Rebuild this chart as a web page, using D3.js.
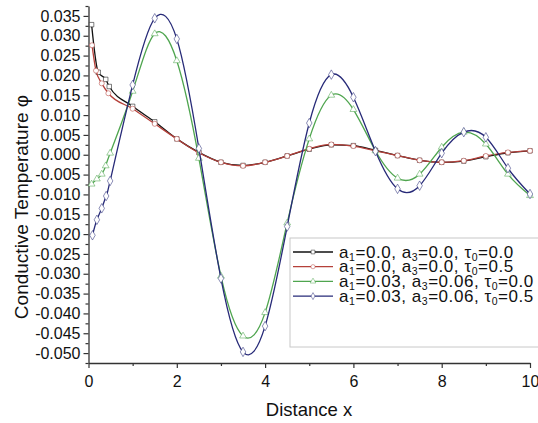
<!DOCTYPE html>
<html>
<head>
<meta charset="utf-8">
<script src="https://cdn.jsdelivr.net/npm/d3@7"></script>
<style>
  body { margin: 0; background: #fff; }
  svg { font-family: Arial, "Liberation Sans", sans-serif; }
</style>
</head>
<body>
<div id="chart"></div>
<script>
// series (x = distance, y = conductive temperature)
const xBlack = [0.07, 0.22, 0.39, 0.47, 1.0, 1.5, 2.0, 2.5, 3.0, 3.5, 4.0, 4.5, 5.0, 5.5, 6.0, 6.5, 7.0, 7.5, 8.0, 8.5, 9.0, 9.5, 10.0];
const yBlack = [0.0328, 0.0208, 0.0190, 0.0172, 0.0122, 0.0083, 0.0040, 0.0006, -0.0019, -0.0027, -0.0019, -0.0003, 0.0014, 0.0025, 0.0023, 0.0011, -0.0002, -0.0014, -0.0019, -0.0016, -0.0005, 0.0005, 0.0010];

const xRed = [0.08, 0.17, 0.30, 0.45, 1.0, 1.5, 2.0, 2.5, 3.0, 3.5, 4.0, 4.5, 5.0, 5.5, 6.0, 6.5, 7.0, 7.5, 8.0, 8.5, 9.0, 9.5, 10.0];
const yRed = [0.0276, 0.0212, 0.0180, 0.0155, 0.0116, 0.0078, 0.0040, 0.0005, -0.0019, -0.0028, -0.0019, -0.0003, 0.0015, 0.0026, 0.0022, 0.0010, -0.0002, -0.0014, -0.0019, -0.0015, -0.0003, 0.0006, 0.0010];

const xGreen = [0.07, 0.19, 0.30, 0.39, 0.49, 1.0, 1.5, 2.0, 2.5, 3.0, 3.5, 4.0, 4.5, 5.0, 5.5, 6.0, 6.5, 7.0, 7.5, 8.0, 8.5, 9.0, 9.5, 10.0];
const yGreen = [-0.0074, -0.0061, -0.0049, -0.0028, 0.0004, 0.0160, 0.0305, 0.0237, -0.0009, -0.0306, -0.0457, -0.0398, -0.0172, 0.0040, 0.0150, 0.0114, 0.0010, -0.0059, -0.0049, 0.0019, 0.0057, 0.0027, -0.0049, -0.0103];

const xBlue = [0.09, 0.19, 0.30, 0.40, 0.49, 1.0, 1.5, 2.0, 2.5, 3.0, 3.5, 4.0, 4.5, 5.0, 5.5, 6.0, 6.5, 7.0, 7.5, 8.0, 8.5, 9.0, 9.5, 10.0];
const yBlue = [-0.0203, -0.0164, -0.0135, -0.0104, -0.0066, 0.0176, 0.0344, 0.0292, 0.0016, -0.0312, -0.0497, -0.0432, -0.0181, 0.0080, 0.0202, 0.0145, 0.0009, -0.0086, -0.0078, 0.0004, 0.0057, 0.0044, -0.0034, -0.0099];

const legendA1 = ["0.0", "0.0", "0.03", "0.03"];
const legendA3 = ["0.0", "0.0", "0.06", "0.06"];
const legendTau = ["0.0", "0.5", "0.0", "0.5"];

const xMajor = [0, 2, 4, 6, 8, 10];
const xMinor = [1, 3, 5, 7, 9];
const yMajor = d3.range(-0.05, 0.0351, 0.005).map((d) => +d.toFixed(3));
const yMinor = d3.range(-0.0525, 0.0376, 0.005).map((d) => +d.toFixed(4));

const series = [
  { xs: xBlack, ys: yBlack, color: "#111111", symbol: d3.symbolSquare, curve: d3.curveMonotoneX },
  { xs: xRed, ys: yRed, color: "#b5403a", symbol: d3.symbolCircle, curve: d3.curveMonotoneX },
  { xs: xGreen, ys: yGreen, color: "#4fa54f", symbol: d3.symbolTriangle, curve: d3.curveNatural },
  { xs: xBlue, ys: yBlue, color: "#272a78", symbol: d3.symbolDiamond, curve: d3.curveNatural }
];

const W = 538, H = 423;
const margin = { top: 6, right: 8, bottom: 60, left: 88.5 };
const width = 530 - margin.left;
const height = 363 - margin.top;

const svg = d3.select("#chart").append("svg")
  .attr("width", W).attr("height", H);

const g = svg.append("g").attr("transform", `translate(${margin.left},${margin.top})`);

const xScale = d3.scaleLinear().domain([0, 10]).range([0, width]);
const yScale = d3.scaleLinear().domain([-0.0525, 0.0375]).range([height, 0]);

// axes
const fmtY = (d) => (Math.abs(d) < 1e-9 ? "0.000" : d.toFixed(3));

g.append("g").attr("class", "y-axis")
  .call(d3.axisLeft(yScale).tickValues(yMajor).tickSize(5).tickSizeOuter(0).tickPadding(3).tickFormat(fmtY));
g.append("g").attr("class", "y-minor")
  .call(d3.axisLeft(yScale).tickValues(yMinor).tickSize(3).tickSizeOuter(0).tickFormat(""))
  .select(".domain").remove();

g.append("g").attr("class", "x-axis")
  .attr("transform", `translate(0,${height})`)
  .call(d3.axisBottom(xScale).tickValues(xMajor).tickSize(5).tickSizeOuter(0).tickPadding(8).tickFormat(d3.format("d")));
g.append("g").attr("class", "x-minor")
  .attr("transform", `translate(0,${height})`)
  .call(d3.axisBottom(xScale).tickValues(xMinor).tickSize(3).tickSizeOuter(0).tickFormat(""))
  .select(".domain").remove();

svg.selectAll(".domain").attr("stroke", "#333").attr("stroke-width", 1.3);
svg.selectAll(".tick line").attr("stroke", "#333").attr("stroke-width", 1.2);
svg.selectAll(".tick text").style("font-size", "16px").style("font-family", "Arial, 'Liberation Sans', sans-serif").attr("fill", "#111");

// titles
svg.append("text")
  .attr("x", 309)
  .attr("y", 416)
  .attr("text-anchor", "middle")
  .style("font-size", "18.5px")
  .attr("fill", "#111")
  .text("Distance x");

svg.append("text")
  .attr("transform", "translate(28,207) rotate(-90)")
  .attr("text-anchor", "middle")
  .style("font-size", "19px")
  .attr("fill", "#111")
  .text("Conductive Temperature φ");

// lines + markers
series.forEach((s) => {
  const pts = s.xs.map((x, i) => [x, s.ys[i]]);
  const line = d3.line()
    .x((d) => xScale(d[0]))
    .y((d) => yScale(d[1]))
    .curve(s.curve);

  g.append("path")
    .datum(pts)
    .attr("fill", "none")
    .attr("stroke", s.color)
    .attr("stroke-width", 1.3)
    .attr("d", line);

  g.selectAll(null)
    .data(pts)
    .enter()
    .append("path")
    .attr("transform", (d) => `translate(${xScale(d[0])},${yScale(d[1])})`)
    .attr("d", d3.symbol().type(s.symbol).size(s.symbol === d3.symbolDiamond ? 26 : 20))
    .attr("fill", "#fff")
    .attr("stroke", s.color)
    .attr("stroke-opacity", 0.6)
    .attr("stroke-width", 0.9);
});

// legend
const legend = svg.append("g").attr("transform", "translate(290,238)");
legend.append("rect")
  .attr("x", 0).attr("y", 0)
  .attr("width", 270).attr("height", 109)
  .attr("fill", "#fff")
  .attr("stroke", "#c8c8c8")
  .attr("stroke-width", 1);

series.forEach((s, i) => {
  const row = legend.append("g").attr("transform", `translate(0,${14 + i * 14.7})`);
  row.append("line")
    .attr("x1", 3).attr("x2", 43)
    .attr("y1", 0).attr("y2", 0)
    .attr("stroke", s.color).attr("stroke-width", 1.3);
  row.append("path")
    .attr("transform", "translate(23,0)")
    .attr("d", d3.symbol().type(s.symbol).size(14))
    .attr("fill", "#fff")
    .attr("stroke", s.color)
    .attr("stroke-opacity", 0.6)
    .attr("stroke-width", 0.8);

  const t = row.append("text")
    .attr("x", 49).attr("y", 5.5)
    .style("font-size", "17px")
    .style("letter-spacing", "0.55px")
    .attr("fill", "#111");
  const sub = (txt) => t.append("tspan").attr("dy", 3).style("font-size", "10.5px").text(txt);
  const back = (txt) => t.append("tspan").attr("dy", -3).text(txt);
  t.append("tspan").text("a");
  sub("1");
  back(`=${legendA1[i]}, a`);
  sub("3");
  back(`=${legendA3[i]}, τ`);
  sub("0");
  back(`=${legendTau[i]}`);
});
</script>
</body>
</html>
